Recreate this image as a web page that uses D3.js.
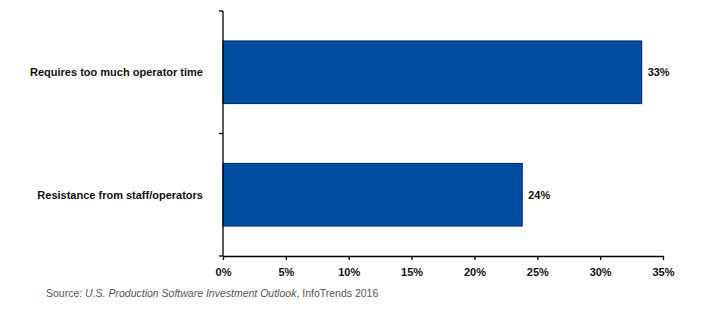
<!DOCTYPE html>
<html>
<head>
<meta charset="utf-8">
<script src="https://cdn.jsdelivr.net/npm/d3@7"></script>
<style>
  body { margin: 0; background: #fff; }
  text { font-family: "Liberation Sans", Arial, sans-serif; }
</style>
</head>
<body>
<div id="chart"></div>
<script>
// Chart data
const categories = ["Requires too much operator time", "Resistance from staff/operators"];
const values = [0.333, 0.238];
const valueLabels = ["33%", "24%"];
const xTicks = [0, 0.05, 0.10, 0.15, 0.20, 0.25, 0.30, 0.35];
const sourceNote = ["Source: ", "U.S. Production Software Investment Outlook", ", InfoTrends 2016"];

const width = 708, height = 310;
const margin = {top: 11, right: 45, bottom: 54, left: 223};

const svg = d3.select("#chart").append("svg")
    .attr("width", width)
    .attr("height", height);

const x = d3.scaleLinear()
    .domain([0, 0.35])
    .range([margin.left, width - margin.right]);

const y = d3.scaleBand()
    .domain(categories)
    .range([margin.top, height - margin.bottom])
    .paddingInner(0.49)
    .paddingOuter(0.245);

// bars
svg.selectAll("rect.bar")
    .data(categories)
    .enter().append("rect")
    .attr("class", "bar")
    .attr("x", x(0))
    .attr("y", d => y(d))
    .attr("width", (d, i) => x(values[i]) - x(0))
    .attr("height", y.bandwidth())
    .attr("fill", "#014ea0")
    .attr("stroke", "#06307e")
    .attr("stroke-width", 1.2);

// value labels
svg.selectAll("text.val")
    .data(categories)
    .enter().append("text")
    .attr("class", "val")
    .attr("x", (d, i) => x(values[i]) + 6)
    .attr("y", d => y(d) + y.bandwidth() / 2)
    .attr("dy", "0.35em")
    .attr("font-size", 11)
    .attr("font-weight", "bold")
    .attr("fill", "#111")
    .text((d, i) => valueLabels[i]);

// y axis: line with ticks at band boundaries
const yBottom = height - margin.bottom;
const yAxisG = svg.append("g");
yAxisG.append("line")
    .attr("x1", x(0)).attr("x2", x(0))
    .attr("y1", margin.top).attr("y2", yBottom)
    .attr("stroke", "#000").attr("stroke-width", 1.3);
const bounds = [margin.top, (margin.top + yBottom) / 2, yBottom];
yAxisG.selectAll("line.tk")
    .data(bounds)
    .enter().append("line")
    .attr("class", "tk")
    .attr("x1", x(0) - 4).attr("x2", x(0))
    .attr("y1", d => d).attr("y2", d => d)
    .attr("stroke", "#000").attr("stroke-width", 1.3);

// category labels
svg.selectAll("text.cat")
    .data(categories)
    .enter().append("text")
    .attr("class", "cat")
    .attr("x", x(0) - 20)
    .attr("y", d => y(d) + y.bandwidth() / 2)
    .attr("dy", "0.35em")
    .attr("text-anchor", "end")
    .attr("font-size", 11)
    .attr("font-weight", "bold")
    .attr("fill", "#111")
    .text(d => d);

// x axis
const xAxis = d3.axisBottom(x)
    .tickValues(xTicks)
    .tickFormat(d3.format(".0%"))
    .tickSize(4)
    .tickSizeOuter(0)
    .tickPadding(8);

const xg = svg.append("g")
    .attr("transform", `translate(0,${yBottom})`)
    .call(xAxis);
xg.select(".domain").attr("stroke", "#000").attr("stroke-width", 1.3);
xg.selectAll(".tick line").attr("stroke", "#000").attr("stroke-width", 1.3);
xg.selectAll(".tick text")
    .attr("font-family", "Liberation Sans, Arial, sans-serif")
    .attr("font-size", 11)
    .attr("font-weight", "bold")
    .attr("fill", "#111");

// source note
const src = svg.append("text")
    .attr("x", 46)
    .attr("y", 297)
    .attr("font-size", 10.5)
    .attr("fill", "#555");
src.selectAll("tspan")
    .data(sourceNote)
    .enter().append("tspan")
    .attr("font-style", (d, i) => i === 1 ? "italic" : "normal")
    .text(d => d);
</script>
</body>
</html>
